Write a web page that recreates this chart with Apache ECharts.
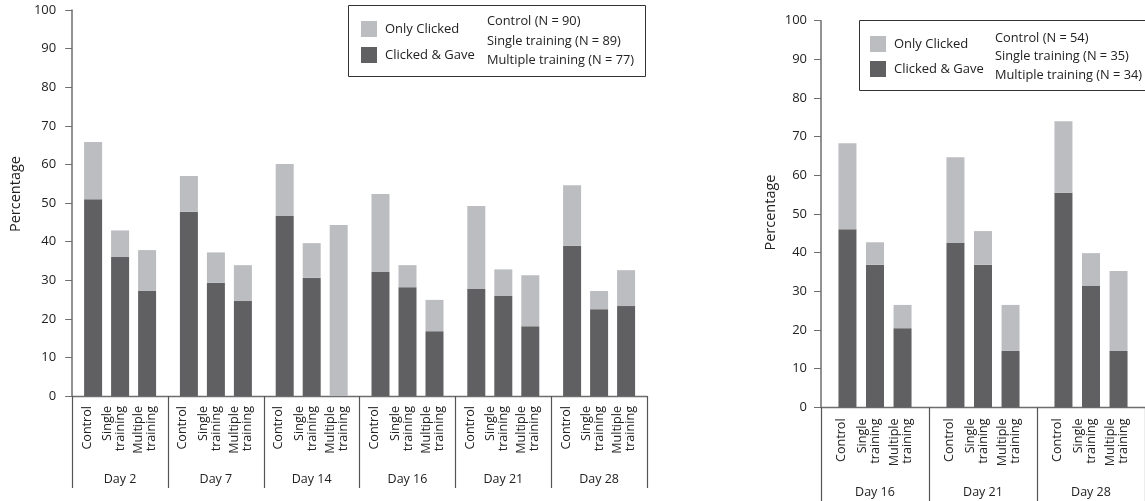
<!DOCTYPE html>
<html><head><meta charset="utf-8">
<script src="https://cdn.jsdelivr.net/npm/echarts@6/dist/echarts.min.js"></script>
<style>html,body{margin:0;padding:0;background:#fff}#c{width:1145px;height:501px}</style>
</head><body><div id="c"></div>
<script>
// ---- data ----
const memberLabels = ['Control', 'Single\ntraining', 'Multiple\ntraining'];
const yTickMin = 0, yTickMax = 100, yTickStep = 10;

const leftDays = ['Day 2', 'Day 7', 'Day 14', 'Day 16', 'Day 21', 'Day 28'];
const leftGaveControl   = [51.0, 47.7, 46.6, 32.1, 27.7, 38.9];
const leftTotalControl  = [65.8, 57.0, 60.1, 52.3, 49.2, 54.6];
const leftGaveSingle    = [36.0, 29.3, 30.6, 28.2, 25.9, 22.5];
const leftTotalSingle   = [42.9, 37.2, 39.6, 33.9, 32.8, 27.2];
const leftGaveMultiple  = [27.2, 24.6, 0.0, 16.8, 18.1, 23.3];
const leftTotalMultiple = [37.8, 33.9, 44.3, 24.9, 31.3, 32.6];
const leftNLabels = ['Control (N = 90)', 'Single training (N = 89)', 'Multiple training (N = 77)'];

const rightDays = ['Day 16', 'Day 21', 'Day 28'];
const rightGaveControl   = [46.1, 42.5, 55.5];
const rightTotalControl  = [68.3, 64.7, 74.0];
const rightGaveSingle    = [36.9, 36.9, 31.4];
const rightTotalSingle   = [42.7, 45.6, 39.9];
const rightGaveMultiple  = [20.5, 14.6, 14.6];
const rightTotalMultiple = [26.5, 26.5, 35.3];
const rightNLabels = ['Control (N = 54)', 'Single training (N = 35)', 'Multiple training (N = 34)'];

const legendNames = ['Only Clicked', 'Clicked & Gave'];

// ---- styles ----
const FONT = '"Open Sans", "Noto Sans", sans-serif';
const LIGHT = '#bcbdc0';
const DARK = '#606062';
const TXT = '#222';
const AX = '#6e6e6e';

function barPair(axisIdx, gave, total, mIdx, dx, dy, barGap) {
  const stack = 's' + axisIdx + '_' + mIdx;
  const only = total.map((t, i) => +(t - gave[i]).toFixed(2));
  return [
    {
      type: 'bar', name: legendNames[1], xAxisIndex: axisIdx, yAxisIndex: axisIdx,
      stack, data: gave, barWidth: 18, barGap: barGap,
      itemStyle: { color: DARK }, animation: false,
      label: {
        show: true, position: ['50%', '100%'], offset: [-dy, dx], rotate: 90,
        align: 'right', verticalAlign: 'middle',
        formatter: () => memberLabels[mIdx],
        fontFamily: FONT, fontSize: 12.6, lineHeight: 13, color: TXT
      }
    },
    {
      type: 'bar', name: legendNames[0], xAxisIndex: axisIdx, yAxisIndex: axisIdx,
      stack, data: only, barWidth: 18, barGap: barGap,
      itemStyle: { color: LIGHT }, animation: false
    }
  ];
}

function xAx(idx, days, tickLen, margin) {
  return {
    gridIndex: idx, type: 'category', data: days,
    axisLine: { show: true, lineStyle: { color: AX, width: 1.3 } },
    axisTick: { show: true, interval: 0, length: tickLen, lineStyle: { color: '#555', width: 1.2 } },
    axisLabel: { interval: 0, margin: margin, fontFamily: FONT, fontSize: 12.5, color: TXT }
  };
}
function yAx(idx, gap, lmargin, pad) {
  return {
    gridIndex: idx, type: 'value', min: yTickMin, max: yTickMax, interval: yTickStep,
    name: 'Percentage', nameLocation: 'middle', nameGap: gap,
    nameTextStyle: { fontFamily: FONT, fontSize: 14.5, color: TXT, padding: pad },
    axisLine: { show: true, lineStyle: { color: AX, width: 1.5 } },
    axisTick: { show: true, length: 7, lineStyle: { color: AX, width: 1 } },
    axisLabel: { margin: lmargin, fontFamily: FONT, fontSize: 13, color: TXT },
    splitLine: { show: false }
  };
}

const offs = [-6, -6, -2];
const series = [].concat(
  barPair(0, leftGaveControl, leftTotalControl, 0, offs[0], 10, '50%'),
  barPair(0, leftGaveSingle, leftTotalSingle, 1, offs[1], 10, '50%'),
  barPair(0, leftGaveMultiple, leftTotalMultiple, 2, offs[2], 10, '50%'),
  barPair(1, rightGaveControl, rightTotalControl, 0, offs[0], 11, '53%'),
  barPair(1, rightGaveSingle, rightTotalSingle, 1, offs[1], 11, '53%'),
  barPair(1, rightGaveMultiple, rightTotalMultiple, 2, offs[2], 11, '53%')
);

const legendBase = {
  data: legendNames, orient: 'vertical', padding: 0,
  itemWidth: 16, itemHeight: 16, icon: 'rect',
  textStyle: { fontFamily: FONT, fontSize: 13, color: TXT, padding: [0, 0, 0, 3] },
  selectedMode: false
};

const chart = echarts.init(document.getElementById('c'), null, { renderer: 'canvas' });
chart.setOption({
  backgroundColor: '#fff',
  animation: false,
  grid: [
    { left: 70, top: 10, width: 577, height: 386 },
    { left: 821, top: 20.7, width: 327, height: 386.7 }
  ],
  xAxis: [xAx(0, leftDays, 92, 77), xAx(1, rightDays, 94, 79)],
  yAxis: [yAx(0, 39, 16, [0, 0, 0, 18]), yAx(1, 43, 14, [0, 0, 0, 3])],
  legend: [
    Object.assign({}, legendBase, { left: 361, top: 21, itemGap: 10 }),
    Object.assign({}, legendBase, { left: 870, top: 36, itemGap: 9 })
  ],
  graphic: [
    { type: 'rect', shape: { x: 348.5, y: 5.5, width: 297, height: 71 },
      style: { fill: 'none', stroke: '#333', lineWidth: 1 }, z: 10 },
    { type: 'text', x: 487, y: 12,
      style: { text: leftNLabels.join('\n'), fontFamily: FONT, fontSize: 12.8, lineHeight: 19.5, fill: TXT, verticalAlign: 'top' }, z: 10 },
    { type: 'rect', shape: { x: 859.5, y: 20.5, width: 300, height: 70 },
      style: { fill: 'none', stroke: '#333', lineWidth: 1 }, z: 10 },
    { type: 'text', x: 995, y: 29,
      style: { text: rightNLabels.join('\n'), fontFamily: FONT, fontSize: 12.8, lineHeight: 18.5, fill: TXT, verticalAlign: 'top' }, z: 10 }
  ],
  series
});
</script></body></html>
